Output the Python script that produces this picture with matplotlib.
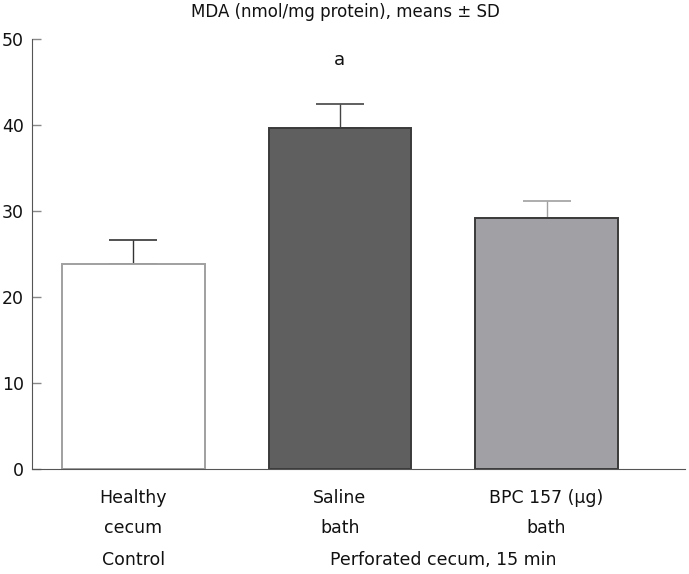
import matplotlib.pyplot as plt

groups = ['Healthy\ncecum', 'Saline\nbath', 'BPC 157 (\u03bcg)\nbath']
means = [23.8, 39.7, 29.15]
sds = [2.8, 2.8, 2.05]
fills = ['white', '#5f5f5f', '#a1a0a5']
edges = ['#a0a0a0', '#3a3a3a', '#3a3a3a']
caps = ['#333333', '#444444', '#a0a0a0']

plt.rcParams['font.family'] = 'DejaVu Sans'
fig = plt.figure(figsize=(6.89, 5.74), dpi=100)
ax = fig.add_axes([32/689, 105/574, 653/689, 430/574])

x = [0, 1, 2]
for i in x:
    ax.bar(i, means[i], width=0.69, color=fills[i], edgecolor=edges[i], linewidth=1.4, zorder=2)
    ax.errorbar(i, means[i], yerr=[[0], [sds[i]]], fmt='none', ecolor=caps[i],
                elinewidth=1.0, capsize=17, capthick=1.2, zorder=1)

ax.set_ylim(0, 50)
ax.set_xlim(-0.49, 2.67)
ax.set_yticks([0, 10, 20, 30, 40, 50])
ax.tick_params(axis='y', direction='in', length=6.5, width=1, color='#888888',
               labelsize=12.5, pad=6, labelcolor='#111111')
ax.tick_params(axis='x', length=0, labelbottom=False)
for s in ['top', 'right']:
    ax.spines[s].set_visible(False)
ax.spines['left'].set_color('#555555')
ax.spines['bottom'].set_color('#555555')

tr = ax.get_xaxis_transform()
for i, g in enumerate(groups):
    l1, l2 = g.split('\n')
    ax.text(i, -0.067, l1, transform=tr, ha='center', va='center', fontsize=12.5, color='#111111')
    ax.text(i, -0.137, l2, transform=tr, ha='center', va='center', fontsize=12.5, color='#111111')
ax.text(0, -0.212, 'Control', transform=tr, ha='center', va='center', fontsize=12.5, color='#111111')
ax.text(1.5, -0.212, 'Perforated cecum, 15 min', transform=tr, ha='center', va='center',
        fontsize=12.5, color='#111111')

ax.text(1, 47.6, 'a', ha='center', va='center', fontsize=13, color='#111111')
fig.text(345/689, 1 - 12/574, 'MDA (nmol/mg protein), means \u00b1 SD', ha='center', va='center',
         fontsize=12, color='#111111')

fig.savefig('out.png', dpi=100)
